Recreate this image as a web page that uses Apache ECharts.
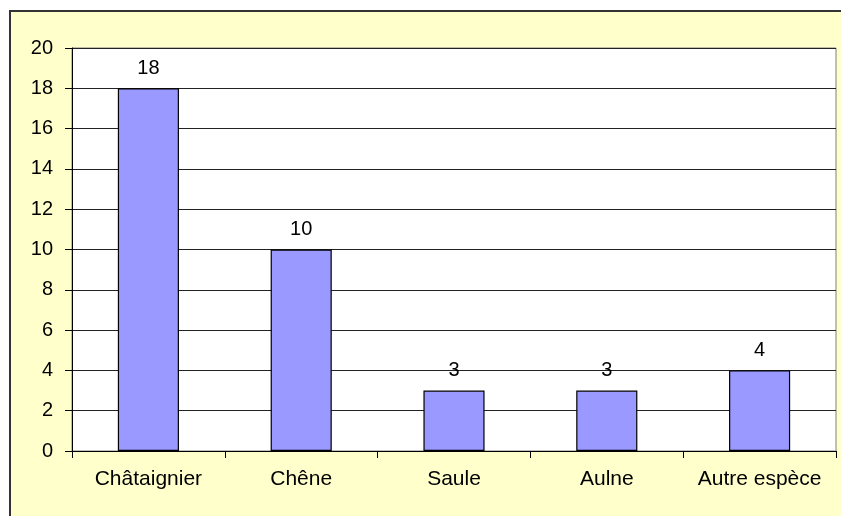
<!DOCTYPE html>
<html>
<head>
<meta charset="utf-8">
<script src="https://cdn.jsdelivr.net/npm/echarts@6/dist/echarts.min.js"></script>
<style>
  html, body { margin: 0; padding: 0; background: #fff; }
  .frame {
    position: absolute; left: 9px; top: 10px; width: 840px; height: 520px;
    background: #ffffcc; border-top: 2px solid #333; border-left: 2px solid #333;
  }
  #chart { position: absolute; left: 0; top: 0; width: 841px; height: 516px; }
</style>
</head>
<body>
<div class="frame"></div>
<div id="chart"></div>
<script>
const categories = ['Châtaignier', 'Chêne', 'Saule', 'Aulne', 'Autre espèce']
const values = [18, 10, 3, 3, 4]

const chart = echarts.init(document.getElementById('chart'))

chart.setOption({
  animation: false,
  textStyle: { fontFamily: 'Liberation Sans, Arial, sans-serif' },
  grid: {
    left: 72,
    top: 48,
    right: 5,
    bottom: 65,
    show: true,
    backgroundColor: '#fff',
    borderColor: '#808080',
    borderWidth: 1
  },
  xAxis: {
    type: 'category',
    data: categories,
    axisLine: { lineStyle: { color: '#000', width: 1 } },
    axisTick: { show: true, interval: 0, length: 7, lineStyle: { color: '#000' } },
    axisLabel: { color: '#000', fontSize: 21, margin: 18, interval: 0, hideOverlap: false }
  },
  yAxis: {
    type: 'value',
    min: 0,
    max: 20,
    interval: 2,
    axisLine: { show: true, lineStyle: { color: '#000', width: 1 } },
    axisTick: { show: true, length: 7, lineStyle: { color: '#000' } },
    axisLabel: { color: '#000', fontSize: 20, margin: 19 },
    splitLine: { lineStyle: { color: '#222', width: 1 } }
  },
  series: [
    {
      type: 'bar',
      data: values,
      barWidth: '40%',
      itemStyle: { color: '#9999ff', borderColor: '#000', borderWidth: 1.2 },
      label: {
        show: true,
        position: 'top',
        distance: 10,
        color: '#000',
        fontSize: 20
      }
    }
  ]
})
</script>
</body>
</html>
